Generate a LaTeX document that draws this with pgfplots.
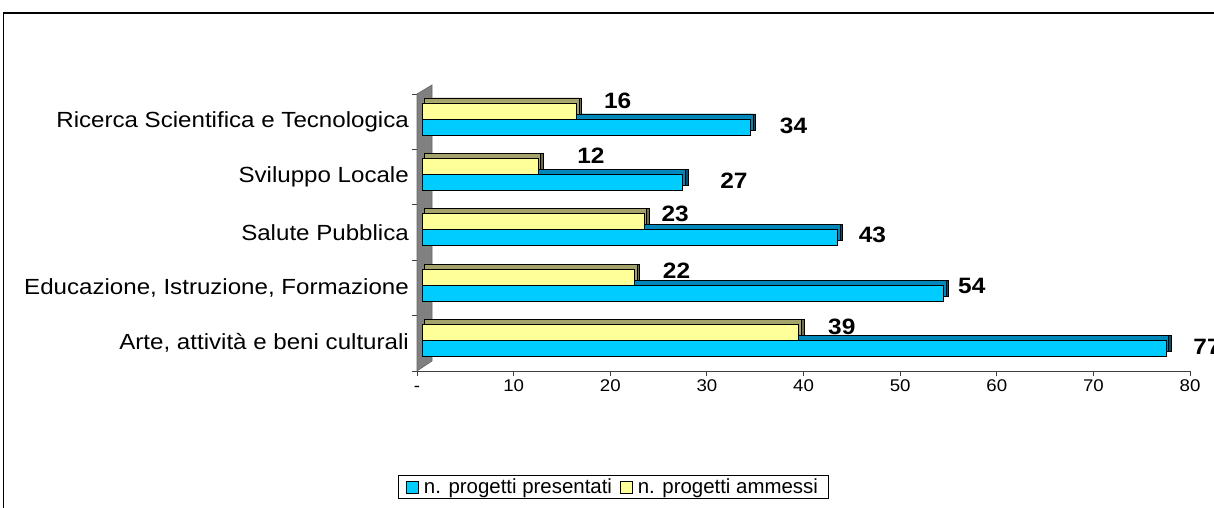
\documentclass[border=0pt]{standalone}
\usepackage{pgfplots}
\pgfplotsset{compat=1.18}
\usepackage{pgfplotstable}
\usepackage{fontspec}
\setmainfont{Liberation Sans}
\newfontfamily\wide{Liberation Sans}[FakeStretch=1.1]

\definecolor{bfront}{HTML}{00CCFF}
\definecolor{btop}{HTML}{0088BB}
\definecolor{bside}{HTML}{005577}
\definecolor{yfront}{HTML}{FFFF99}
\definecolor{ytop}{HTML}{A3A36B}
\definecolor{yside}{HTML}{6E6E45}
\definecolor{wallgray}{HTML}{808080}

\pgfplotstableread{
y pres amm dxp dyp dxa dya
0 77 39 27 2 29 6
1 54 22 14 7.5 28 6.5
2 43 23 21 3 17 8
3 27 12 37 1.5 39 10.5
4 34 16 29 1 27 10
}\data

\begin{document}
\begin{tikzpicture}[x=1bp,y=1bp]
\useasboundingbox (0,0) rectangle (1214,508);
\draw[line width=1.2bp] (3.5,-20) -- (3.5,495) -- (1240,495);
\begin{axis}[
  at={(417bp,137bp)}, anchor=south west,
  scale only axis, width=773bp, height=277bp,
  xbar, bar width=16bp,
  xmin=0, xmax=80, ymin=-0.5, ymax=4.5,
  clip=false,
  axis x line*=bottom, axis y line*=left,
  axis line style={black!75, line width=0.8bp},
  tick align=outside, major tick length=5bp,
  tick style={black!75, line width=0.8bp},
  xtick={0,10,...,80},
  xticklabels={-,10,20,30,40,50,60,70,80},
  xticklabel style={font=\wide\fontsize{17}{20}\selectfont, inner sep=0pt, text height=12bp, text depth=0bp, yshift=-3bp},
  ytick={-0.5,0.5,1.5,2.5,3.5,4.5},
  yticklabels={},
  extra y ticks={0,1,2,3,4},
  extra y tick labels={{Arte, attività e beni culturali},{Educazione, Istruzione, Formazione},{Salute Pubblica},{Sviluppo Locale},{Ricerca Scientifica e Tecnologica}},
  extra y tick style={tick style={draw=none}},
  yticklabel style={font=\wide\fontsize{22}{24}\selectfont, inner sep=0pt, xshift=-3bp},
  legend image code/.code={\draw[#1] (0bp,-6bp) rectangle (12bp,6bp);},
  legend style={at={(0.2536,-0.4188)}, anchor=center, legend columns=2,
    draw=black, line width=0.8bp, font=\fontsize{20.5}{24}\selectfont,
    inner xsep=8bp, inner ysep=1.5bp,
    /tikz/every odd column/.append style={column sep=3bp},
    /tikz/every even column/.append style={column sep=6bp}},
  point meta=explicit symbolic,
]
% gray wall
\fill[wallgray, draw=black!60, line width=0.6bp] (rel axis cs:0,0) -- (rel axis cs:0,1) -- ([shift={(15bp,9bp)}]rel axis cs:0,1) -- ([shift={(15bp,10bp)}]rel axis cs:0,0) -- cycle;
% depth faces
\addplot[forget plot, fill=bside, draw=black, line width=0.6bp, bar shift=-5.3bp, xshift=10bp, yshift=5bp] table[x=pres,y=y]{\data};
\addplot[forget plot, fill=btop, draw=black, line width=0.6bp, bar shift=-5.3bp, xshift=7.5bp, yshift=5bp] table[x=pres,y=y]{\data};
\addplot[forget plot, fill=yside, draw=black, line width=0.6bp, bar shift=10.7bp, xshift=10bp, yshift=5bp] table[x=amm,y=y]{\data};
\addplot[forget plot, fill=ytop, draw=black, line width=0.6bp, bar shift=10.7bp, xshift=7.5bp, yshift=5bp] table[x=amm,y=y]{\data};
% front faces
\addplot[forget plot, fill=bfront, draw=black, line width=0.8bp, bar shift=-5.3bp, xshift=5bp,
  nodes near coords={\pgfplotspointmeta},
  visualization depends on={\thisrow{dxp}\as\dx},
  visualization depends on={\thisrow{dyp}\as\dy},
  every node near coord/.append style={anchor=west, inner sep=0pt, xshift=\dx bp, yshift=\dy bp, font=\wide\bfseries\fontsize{22.3}{24}\selectfont, text=black}]
  table[x=pres,y=y,meta=pres]{\data};
\addplot[forget plot, fill=yfront, draw=black, line width=0.8bp, bar shift=10.7bp, xshift=5bp,
  nodes near coords={\pgfplotspointmeta},
  visualization depends on={\thisrow{dxa}\as\dx},
  visualization depends on={\thisrow{dya}\as\dy},
  every node near coord/.append style={anchor=west, inner sep=0pt, xshift=\dx bp, yshift=\dy bp, font=\wide\bfseries\fontsize{22.3}{24}\selectfont, text=black}]
  table[x=amm,y=y,meta=amm]{\data};
\addlegendimage{fill=bfront, draw=black, line width=0.8bp}
\addlegendentry{n. progetti presentati}
\addlegendimage{fill=yfront, draw=black, line width=0.8bp}
\addlegendentry{n. progetti ammessi}
\end{axis}
\end{tikzpicture}
\end{document}
